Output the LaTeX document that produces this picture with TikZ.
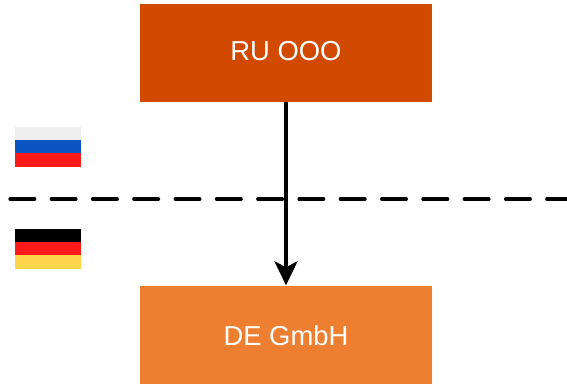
\documentclass[tikz,border=0pt]{standalone}
\usepackage{fontspec}
\setmainfont{Liberation Sans}
\usetikzlibrary{arrows.meta}
\definecolor{ruorange}{HTML}{D24A00}
\definecolor{deorange}{HTML}{EE7F31}
\definecolor{ruw}{HTML}{EEEEEE}
\definecolor{rub}{HTML}{0B55C3}
\definecolor{rur}{HTML}{FF1A1A}
\definecolor{degold}{HTML}{FFD54A}
\definecolor{dered}{HTML}{FF1A1A}
\tikzset{x=1pt,y=-1pt,
 box/.style={minimum width=292pt,minimum height=98pt,inner sep=0pt,text=white,font=\fontsize{27.4}{30}\selectfont},
 stripe/.style={minimum width=66pt,minimum height=13.4pt,inner sep=0pt,anchor=north west,outer sep=0pt}}
\begin{document}
\begin{tikzpicture}
\useasboundingbox (0,0) rectangle (567,383);
\node[box,fill=ruorange] (ru) at (286,53) {};
\node[box,fill=deorange] (de) at (286,334.5) {};
\node[text=white,font=\fontsize{27.4}{30}\selectfont,inner sep=0pt] (rut) at (286,51) {RU OOO};
\node[text=white,font=\fontsize{27.4}{30}\selectfont,inner sep=0pt] (det) at (286,336) {DE GmbH};
\node[stripe,fill=ruw] (f1) at (14.7,127) {};
\node[stripe,fill=rub] (f2) at (14.7,140) {};
\node[stripe,fill=rur] (f3) at (14.7,153.3) {};
\node[stripe,fill=black] (g1) at (14.5,229) {};
\node[stripe,fill=dered] (g2) at (14.5,242) {};
\node[stripe,fill=degold] (g3) at (14.5,255.3) {};
\coordinate (dl) at (10,199);
\coordinate (dr) at (567,199);
\draw[line width=3.4pt,line cap=round,dash pattern=on 24.6pt off 16.7pt] (dl) -- (dr);
\draw[line width=3.6pt,-{Stealth[length=24pt,width=23pt,inset=6pt]}] (ru) -- (de);
\end{tikzpicture}
\end{document}
